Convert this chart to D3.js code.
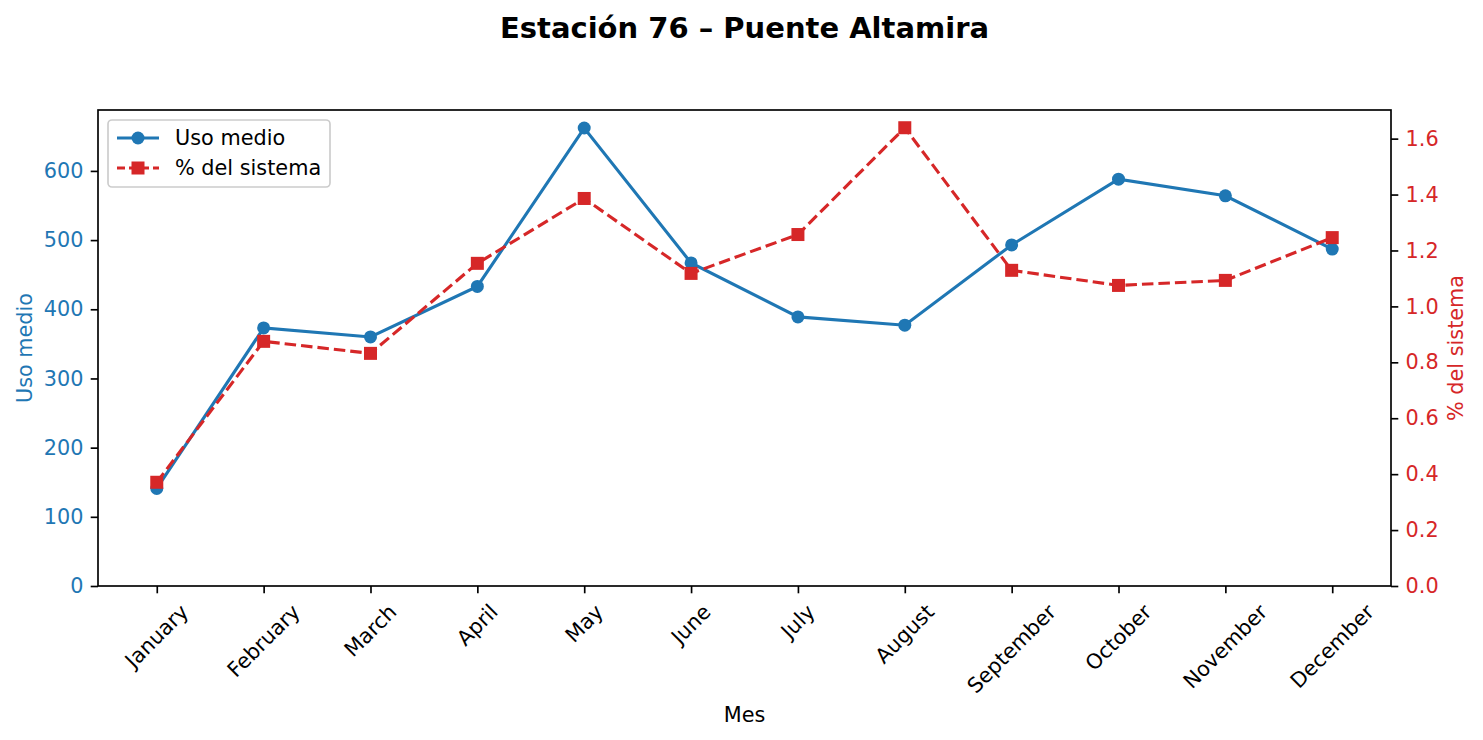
<!DOCTYPE html>
<html>
<head>
<meta charset="utf-8">
<script src="https://cdn.jsdelivr.net/npm/d3@7/dist/d3.min.js"></script>
<style>
  body { margin: 0; background: #fff; }
  svg text { font-family: "DejaVu Sans", sans-serif; }
</style>
</head>
<body>
<div id="chart-area"></div>
<script>
var months = ["January","February","March","April","May","June","July","August","September","October","November","December"];
var usoMedio = [141, 373, 360, 433, 662, 467, 389, 377, 493, 588, 564, 487];
var pctSistema = [0.371, 0.875, 0.832, 1.154, 1.386, 1.118, 1.257, 1.639, 1.129, 1.075, 1.093, 1.246];
var leftTicks = [0, 100, 200, 300, 400, 500, 600];
var rightTicks = [0, 0.2, 0.4, 0.6, 0.8, 1.0, 1.2, 1.4, 1.6];

var blue = "#1f77b4", red = "#d62728";
var total_width = 1483, total_height = 740;
var margin = {top: 110, right: 92, bottom: 154, left: 98};
var width = total_width - margin.left - margin.right;
var height = total_height - margin.top - margin.bottom;
var fs = 20.8;

var svg = d3.select('#chart-area').append('svg')
            .attr("width", total_width)
            .attr("height", total_height);

var chart = svg.append('g')
               .attr("transform", "translate(" + margin.left + "," + margin.top + ")");

// matplotlib style 5% margins
function padded(vals, lo) {
  var mn = d3.min(vals), mx = d3.max(vals);
  var m = (mx - mn) * 0.05;
  return [lo !== undefined ? lo : mn - m, mx + m];
}

var x = d3.scaleLinear().domain([-0.55, months.length - 1 + 0.55]).range([0, width]);
var yL = d3.scaleLinear().domain(padded(usoMedio, 0)).range([height, 0]);
var yR = d3.scaleLinear().domain(padded(pctSistema, 0)).range([height, 0]);

// title
svg.append("text")
   .attr("x", margin.left + width / 2)
   .attr("y", 38)
   .attr("text-anchor", "middle")
   .attr("font-size", "29px")
   .attr("font-weight", "bold")
   .text("Estación 76 – Puente Altamira");

// axes
var xAxis = d3.axisBottom(x).tickValues(d3.range(months.length)).tickFormat("").tickSize(7.3).tickSizeOuter(0);
var gx = chart.append('g').attr("transform", "translate(0," + height + ")").call(xAxis);

var gl = chart.append('g').call(d3.axisLeft(yL).tickValues(leftTicks).tickSize(7.3).tickPadding(7.3).tickSizeOuter(0));
var gr = chart.append('g').attr("transform", "translate(" + width + ",0)")
              .call(d3.axisRight(yR).tickValues(rightTicks).tickFormat(d3.format(".1f")).tickSize(7.3).tickPadding(7.3).tickSizeOuter(0));

[gx, gl, gr].forEach(function(g) {
  g.select(".domain").remove();
  g.selectAll(".tick line").attr("stroke", "#000").attr("stroke-width", 1.67);
  g.selectAll(".tick text").attr("font-size", fs + "px").attr("font-family", "DejaVu Sans");
});
gl.selectAll(".tick text").attr("fill", blue);
gr.selectAll(".tick text").attr("fill", red);

// rotated month labels
months.forEach(function(m, i) {
  var t = chart.append("text")
               .attr("font-size", fs + "px")
               .attr("text-anchor", "middle")
               .attr("dominant-baseline", "central")
               .text(m);
  var w = t.node().getComputedTextLength();
  var h = fs * 1.05;
  var half = (w + h) / (2 * Math.SQRT2);
  var cx = x(i), cy = height + 14.6 + half;
  t.attr("transform", "translate(" + cx + "," + cy + ") rotate(-45)");
});

// axis labels
svg.append("text")
   .attr("x", margin.left + width / 2)
   .attr("y", 722)
   .attr("text-anchor", "middle")
   .attr("font-size", fs + "px")
   .text("Mes");

svg.append("text")
   .attr("transform", "translate(32," + (margin.top + height / 2) + ") rotate(-90)")
   .attr("text-anchor", "middle")
   .attr("font-size", fs + "px")
   .attr("fill", blue)
   .text("Uso medio");

svg.append("text")
   .attr("transform", "translate(1463," + (margin.top + height / 2) + ") rotate(-90)")
   .attr("text-anchor", "middle")
   .attr("font-size", fs + "px")
   .attr("fill", red)
   .text("% del sistema");

// lines
var lineL = d3.line().x(function(d, i) { return x(i); }).y(function(d) { return yL(d); });
var lineR = d3.line().x(function(d, i) { return x(i); }).y(function(d) { return yR(d); });

chart.append("path").datum(usoMedio)
     .attr("d", lineL).attr("fill", "none")
     .attr("stroke", blue).attr("stroke-width", 3.1);
chart.selectAll("circle.uso").data(usoMedio).enter().append("circle")
     .attr("class", "uso")
     .attr("cx", function(d, i) { return x(i); })
     .attr("cy", function(d) { return yL(d); })
     .attr("r", 6.5)
     .attr("fill", blue);

chart.append("path").datum(pctSistema)
     .attr("d", lineR).attr("fill", "none")
     .attr("stroke", red).attr("stroke-width", 3.1)
     .attr("stroke-dasharray", "11.5,5");
var sq = 13;
chart.selectAll("rect.pct").data(pctSistema).enter().append("rect")
     .attr("class", "pct")
     .attr("x", function(d, i) { return x(i) - sq / 2; })
     .attr("y", function(d) { return yR(d) - sq / 2; })
     .attr("width", sq).attr("height", sq)
     .attr("fill", red);

// frame
chart.append("rect")
     .attr("width", width).attr("height", height)
     .attr("fill", "none").attr("stroke", "#000").attr("stroke-width", 1.67);

// legend
var legend = svg.append("g").attr("transform", "translate(108,120)");
legend.append("rect")
      .attr("width", 222).attr("height", 67)
      .attr("rx", 4).attr("ry", 4)
      .attr("fill", "#fff").attr("fill-opacity", 0.8)
      .attr("stroke", "#cccccc").attr("stroke-width", 1.67);
var items = [
  {label: "Uso medio", color: blue, dash: null, marker: "circle"},
  {label: "% del sistema", color: red, dash: "11.5,5", marker: "square"}
];
items.forEach(function(it, i) {
  var yy = 18 + i * 30;
  legend.append("line")
        .attr("x1", 9).attr("x2", 51).attr("y1", yy).attr("y2", yy)
        .attr("stroke", it.color).attr("stroke-width", 3.1)
        .attr("stroke-dasharray", it.dash ? "8,4" : null);
  if (it.marker === "circle") {
    legend.append("circle").attr("cx", 30).attr("cy", yy).attr("r", 6.5).attr("fill", it.color);
  } else {
    legend.append("rect").attr("x", 30 - sq / 2).attr("y", yy - sq / 2)
          .attr("width", sq).attr("height", sq).attr("fill", it.color);
  }
  legend.append("text")
        .attr("x", 67).attr("y", yy)
        .attr("dominant-baseline", "central")
        .attr("font-size", fs + "px")
        .text(it.label);
});
</script>
</body>
</html>
